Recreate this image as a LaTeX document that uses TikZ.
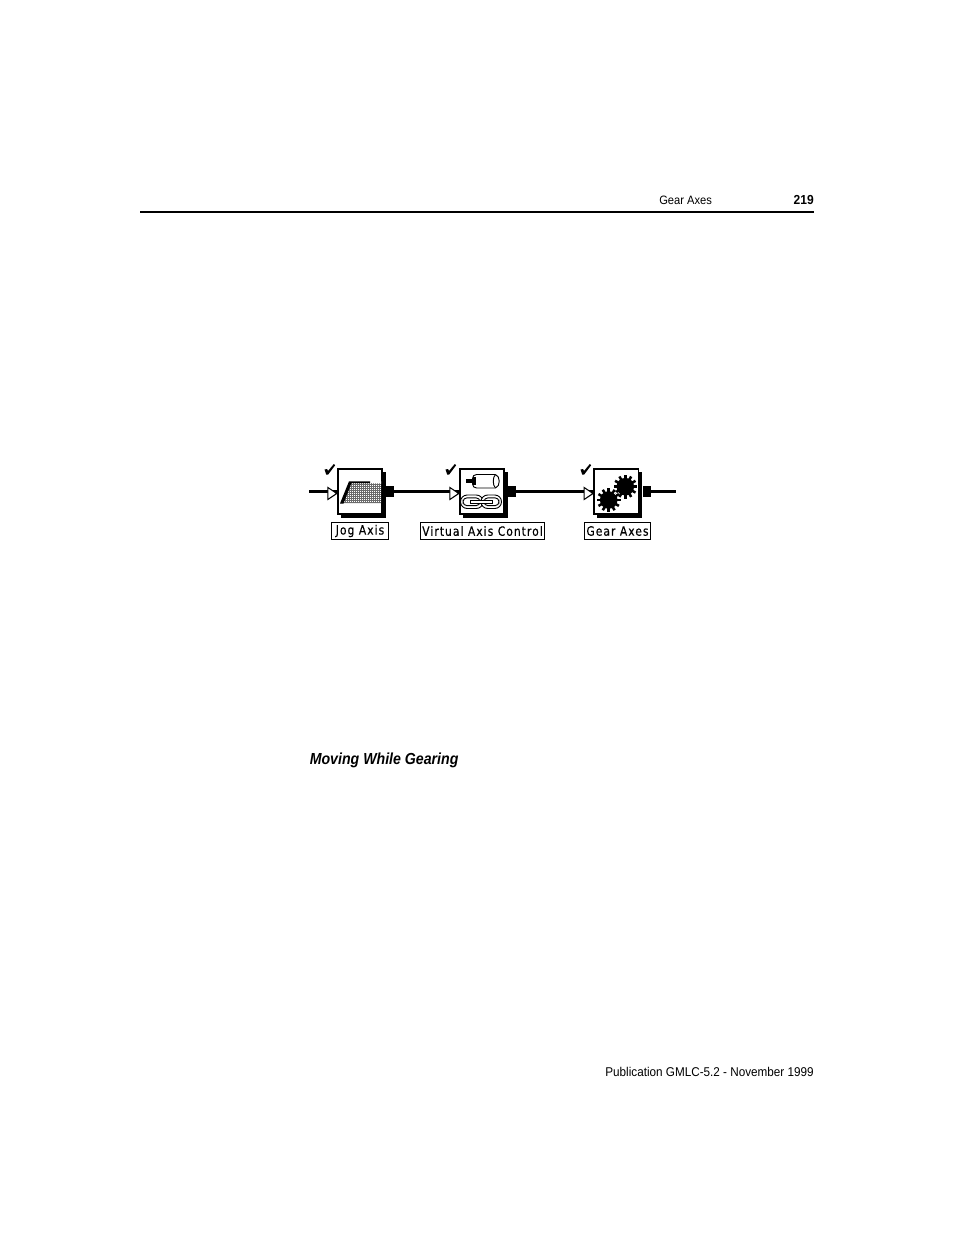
\documentclass[tikz,border=0pt]{standalone}
\usepackage{fontspec}
\setmainfont{Liberation Sans}
\newfontfamily\narrowfont[FakeStretch=0.92]{Liberation Sans}
\newfontfamily\headfont[FakeStretch=0.885]{Liberation Sans}
\newfontfamily\pixfont[FakeStretch=0.84,LetterSpace=8,FakeBold=0.4]{DejaVu Sans}
\usetikzlibrary{shapes.geometric,calc}
\tikzset{
  blockbox/.style={draw=black,line width=1.4pt,fill=white,minimum width=33.4pt,minimum height=33.6pt,inner sep=0pt,outer sep=0pt},
  portbox/.style={fill=black,draw=none,minimum width=6.2pt,minimum height=8pt,inner sep=0pt,outer sep=0pt},
  inmark/.style={draw=black,line width=.8pt,fill=white},
  wire/.style={line width=2pt,black},
  lab/.style={draw=black,line width=1.05pt,fill=white,inner sep=0pt,minimum height=12.6pt,font=\pixfont\fontsize{9.6}{10}\selectfont},
  pagetext/.style={font=\narrowfont\fontsize{9.55}{11}\selectfont,inner sep=0pt,text=black},
  fine/.style={line width=.7pt,black}
}
\newcommand{\inarrow}[1]{\draw[inmark] ($(#1.west)+(-7.4pt,3.2pt)$) -- ++(0,-9pt) -- ($(#1.west)+(-.7pt,-1.3pt)$) -- cycle;}
\begin{document}
\begin{tikzpicture}[x=0.75pt,y=-0.75pt]
\useasboundingbox (0,0) rectangle (954,1235);
% header
\node[pagetext,anchor=base west,font=\narrowfont\fontsize{9.1}{11}\selectfont] (hd) at (659,204.5) {Gear Axes};
\node[pagetext,anchor=base east,font=\narrowfont\bfseries\fontsize{9.8}{11}\selectfont] (pg) at (814,204.5) {219};
\coordinate (rl) at (140,212); \coordinate (rr) at (814,212);
\draw[line width=1.5pt] (rl) -- (rr);
% footer and heading
\node[pagetext,anchor=base east] (ft) at (814,1076) {Publication GMLC-5.2 - November 1999};
\node[anchor=base west,inner sep=0pt,font=\headfont\bfseries\itshape\fontsize{12}{14}\selectfont] (mv) at (309.5,764) {Moving While Gearing};
% shadows
\foreach \x in {337,458.5,593}{
  \fill[black] (\x+4,472) rectangle (\x+49,518);
}
% blocks
\node[blockbox] (b1) at (360,491.75) {};
\node[blockbox] (b2) at (482,491.75) {};
\node[blockbox] (b3) at (616.25,491.75) {};
\node[portbox] (p1) at (389.6,491.75) {};
\node[portbox] (p2) at (512,491.75) {};
\node[portbox] (p3) at (646.8,491.75) {};
\coordinate (start) at (309,491.75);
\coordinate (stop) at (676,491.75);
\draw[wire] (start) -- (b1.west);
\draw[wire] (p1) -- (b2.west);
\draw[wire] (p2) -- (b3.west);
\draw[wire] (p3) -- (stop);
\foreach \n in {b1,b2,b3}{\inarrow{\n}}
% checks
\foreach \x in {324,445,580}{
  \fill (\x+.5,469.5) -- (\x+3,469) -- (\x+4,471) -- (\x+9.8,464) -- (\x+11.2,465.2) -- (\x+4.2,474.5) -- (\x+2.2,474.5) -- cycle;
}
% jog icon
\fill[black!58] (341,503) -- (350,482) -- (381,482) -- (381,503) -- cycle;
\foreach \yy in {483.5,485.5,...,501.5}{\draw[white,line width=.4pt,dash pattern=on .75pt off .75pt] (342,\yy) -- (381,\yy);}
\fill[white] (366,481) -- (381,481) -- (381,483.5) -- (366,483) -- cycle;
\fill[black] (340,503.5) -- (349,481.3) -- (370,481.3) -- (370,483) -- (351.5,483) -- (343.5,503.5) -- cycle;
% actuator icon
\draw[fine,rounded corners=3pt] (495.5,474.5) -- (472.5,474.5) -- (472.5,488) -- (495.5,488);
\draw[fine] (495.5,474.5) .. controls (500.5,476) and (500.5,486.5) .. (495.5,488);
\draw[fine] (495.5,474.5) .. controls (492.5,477) and (492.5,485.5) .. (495.5,488);
\draw[line width=2.3pt] (466,481) -- (473,481);
\fill (472.7,476.7) rectangle (476.3,485);
% chain icon
\draw[fine,rounded corners=5pt] (460.5,495) rectangle (483,508.5);
\draw[fine,rounded corners=3pt] (463,497.8) rectangle (480,505.7);
\draw[fine,fill=white,rounded corners=5pt] (481,495) rectangle (501.5,508.5);
\draw[fine,fill=white,rounded corners=3pt] (484,497.8) rectangle (499,505.7);
\draw[fine,fill=white] (470,500.4) rectangle (492,503.1);
% gears
\foreach \cx/\cy in {625.3/486.7,608.7/500}{
  \fill (\cx,\cy) circle[radius=8.8];
  \foreach \a in {0,30,...,330}{
    \draw[line width=1.9pt] ($(\cx,\cy)+(\a:7)$) -- ($(\cx,\cy)+(\a:11.8)$);
  }
}
\draw[white,line width=.5pt] (615.5,493.3) circle[radius=1.2];
% labels
\node[lab,minimum width=42.5pt] (l1) at (360,531) {Jog Axis};
\node[lab,minimum width=93pt] (l2) at (482.5,531) {Virtual Axis Control};
\node[lab,minimum width=49.5pt] (l3) at (617.5,531) {Gear Axes};
\end{tikzpicture}
\end{document}
